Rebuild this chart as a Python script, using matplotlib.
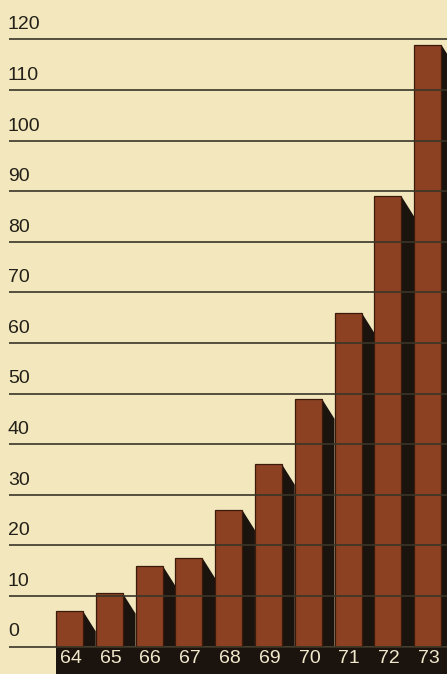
import matplotlib.pyplot as plt
from matplotlib.patches import Polygon, Rectangle

years = ["64", "65", "66", "67", "68", "69", "70", "71", "72", "73"]
values = [7, 10.5, 16, 17.5, 27, 36, 49, 66, 89, 119]
grid_ticks = [0, 10, 20, 30, 40, 50, 60, 70, 80, 90, 100, 110, 120]

paper = "#f3e7bd"
brown = "#8c4123"
shadow = "#1b140e"
line_color = "#3a3527"
label_color = "#f1e8cc"

plt.rcParams["font.family"] = ["Liberation Sans", "DejaVu Sans"]

fig = plt.figure(figsize=(4.47, 6.74), dpi=100)
fig.patch.set_facecolor(paper)
ax = fig.add_axes([0, 0, 1, 1])
ax.set_facecolor(paper)
ax.set_xlim(-1.746, 9.485)
ax.set_ylim(-5.43, 127.8)
ax.axis("off")

bar_width = 0.68
gap = 1 - bar_width
drop = 4

x = list(range(len(years)))

# Black strip along the bottom that carries the year labels
ax.add_patch(Rectangle((-bar_width / 2, -6), 12, 6, facecolor=shadow,
                       edgecolor="none", zorder=1))

# Slanted shadow to the right of every bar
for i, v in zip(x, values):
    right = i + bar_width / 2
    pts = [(right, v), (right + gap, v - drop), (right + gap, 0), (right, 0)]
    ax.add_patch(Polygon(pts, closed=True, facecolor=shadow,
                         edgecolor="none", zorder=2))

ax.bar(x, values, width=bar_width, color=brown, edgecolor="#3b1a0c",
       linewidth=0.9, zorder=3)

# Horizontal rules run over the bars
ax.hlines(grid_ticks, -1.52, 9.6, colors=line_color, linewidth=1.2, zorder=4)

for t in grid_ticks:
    ax.text(-1.55, t + 2, str(t), fontsize=14, color="#222018",
            ha="left", va="baseline", zorder=5)

for i, yr in zip(x, years):
    ax.text(i + 0.03, -2.35, yr, fontsize=14, color=label_color,
            ha="center", va="center", zorder=5)

plt.savefig("out.png", dpi=100, facecolor=paper)
